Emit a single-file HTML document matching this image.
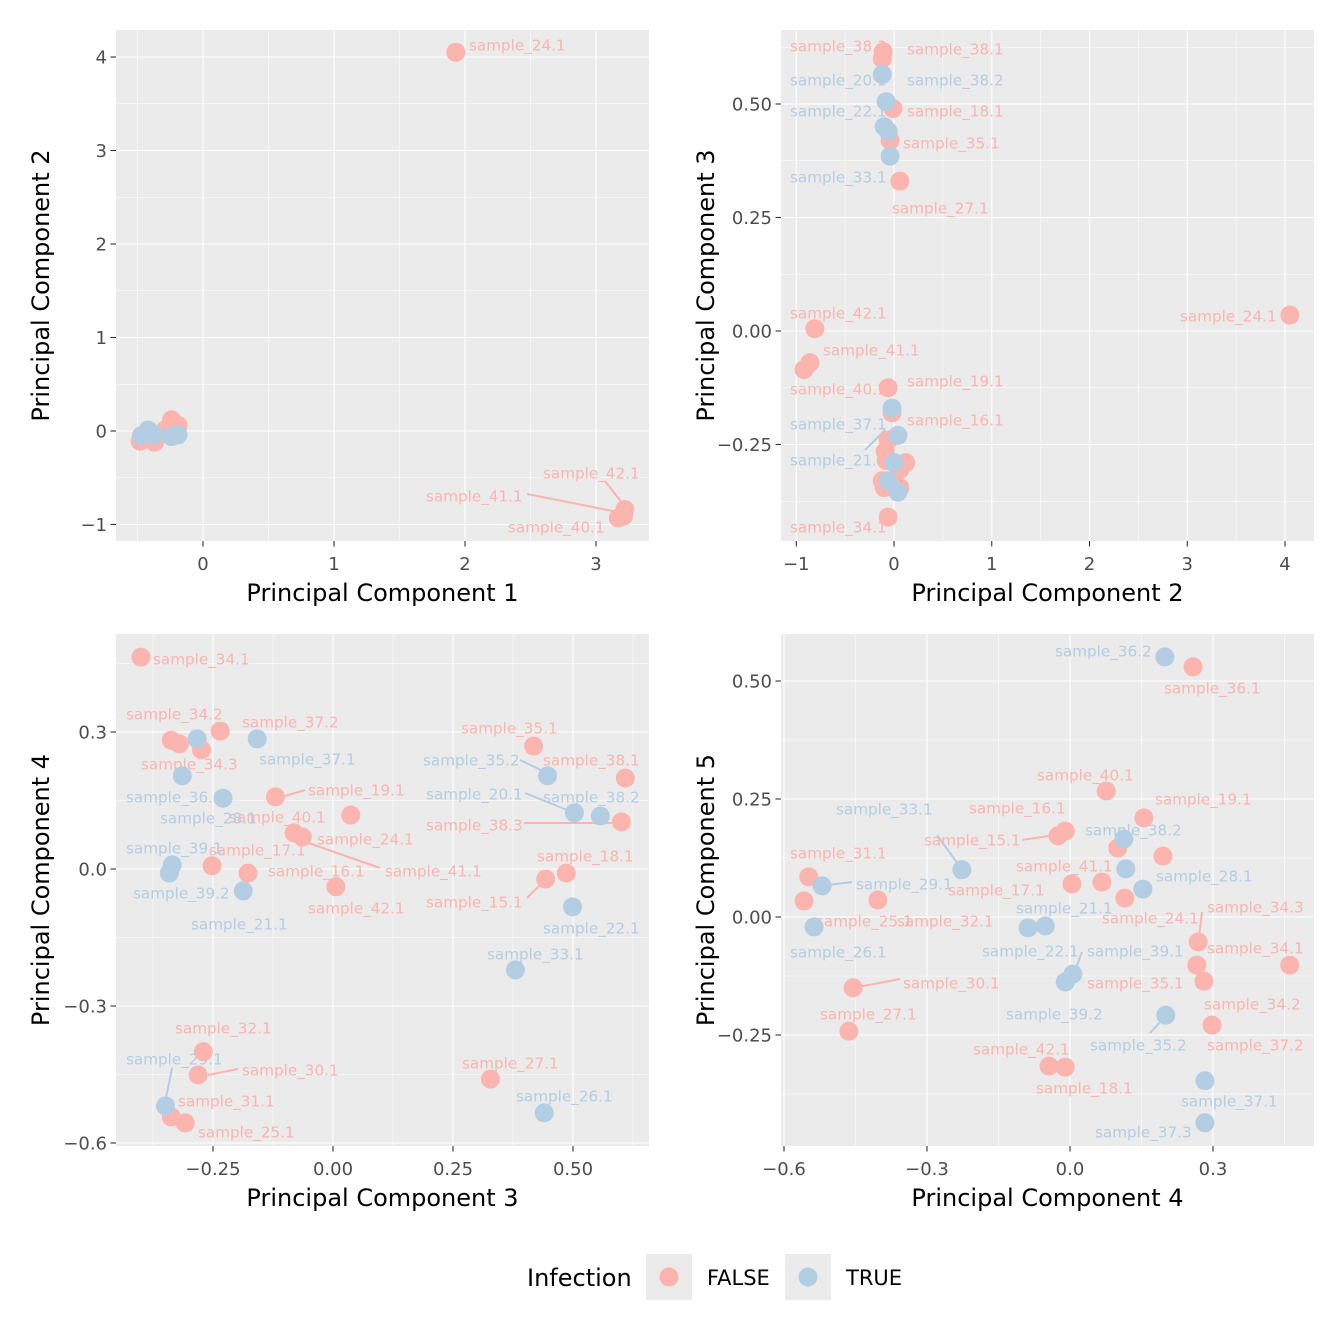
<!DOCTYPE html>
<html><head><meta charset="utf-8"><style>
html,body{margin:0;padding:0;background:#fff;}
svg{display:block;font-family:"DejaVu Sans","Liberation Sans",sans-serif;}
</style></head><body>
<svg id="chart" width="1344" height="1344" viewBox="0 0 1344 1344"></svg>
<script>
// ---- data (values in principal component units) ----
const p1_x=[1.93,-0.48,-0.37,-0.24,-0.19,-0.29,3.22,3.21,3.17,-0.42,-0.47,-0.24,-0.19,-0.37];
const p1_y=[4.05,-0.11,-0.12,0.12,0.06,0.01,-0.84,-0.91,-0.93,0.01,-0.05,-0.06,-0.04,-0.04];
const p1_g=[0,0,0,0,0,0,0,0,0,1,1,1,1,1];
const p2_x=[-0.11,-0.12,-0.01,-0.04,0.06,-0.81,-0.86,-0.92,-0.06,4.05,-0.06,0.12,-0.02,-0.06,-0.09,-0.08,0.06,-0.12,-0.1,0.06,-0.12,-0.08,-0.1,-0.06,-0.04,-0.02,0.04,0,-0.06,0.04];
const p2_y=[0.615,0.6,0.49,0.42,0.33,0.005,-0.07,-0.085,-0.125,0.035,-0.41,-0.29,-0.18,-0.24,-0.265,-0.285,-0.305,-0.33,-0.345,-0.345,0.565,0.505,0.45,0.44,0.385,-0.17,-0.23,-0.29,-0.33,-0.355];
const p2_g=[0,0,0,0,0,0,0,0,0,0,0,0,0,0,0,0,0,0,0,0,1,1,1,1,1,1,1,1,1,1];
const p3_x=[-0.4,-0.337,-0.32,-0.274,-0.235,-0.12,0.037,-0.081,-0.064,-0.252,-0.177,0.006,0.418,0.609,0.601,0.486,0.443,-0.27,-0.281,-0.337,-0.308,0.328,-0.283,-0.158,-0.314,-0.229,-0.335,-0.341,-0.187,0.447,0.503,0.557,0.499,0.38,0.44,-0.349];
const p3_y=[0.464,0.282,0.274,0.261,0.302,0.158,0.118,0.079,0.07,0.007,-0.009,-0.039,0.269,0.199,0.103,-0.009,-0.022,-0.4,-0.451,-0.543,-0.556,-0.46,0.285,0.285,0.204,0.155,0.009,-0.009,-0.048,0.204,0.123,0.116,-0.083,-0.221,-0.534,-0.519];
const p3_g=[0,0,0,0,0,0,0,0,0,0,0,0,0,0,0,0,0,0,0,0,0,0,1,1,1,1,1,1,1,1,1,1,1,1,1,1];
const p4_x=[0.258,0.076,0.155,-0.01,-0.025,0.1,0.195,0.004,0.067,0.115,-0.548,-0.558,-0.403,0.269,0.266,0.281,0.461,-0.455,-0.464,0.298,-0.044,-0.01,0.199,0.113,0.117,0.153,-0.227,-0.52,-0.537,-0.088,-0.052,0.006,-0.01,0.201,0.283,0.283];
const p4_y=[0.53,0.267,0.21,0.182,0.172,0.146,0.129,0.07,0.074,0.04,0.085,0.034,0.036,-0.053,-0.102,-0.136,-0.102,-0.15,-0.242,-0.229,-0.316,-0.318,0.551,0.165,0.102,0.059,0.1,0.066,-0.021,-0.023,-0.019,-0.121,-0.138,-0.208,-0.347,-0.436];
const p4_g=[0,0,0,0,0,0,0,0,0,0,0,0,0,0,0,0,0,0,0,0,0,0,1,1,1,1,1,1,1,1,1,1,1,1,1,1];
const p1_xticks=[0,1,2,3], p1_yticks=[-1,0,1,2,3,4];
const p2_xticks=[-1,0,1,2,3,4], p2_yticks=[-0.25,0,0.25,0.5];
const p3_xticks=[-0.25,0,0.25,0.5], p3_yticks=[-0.6,-0.3,0,0.3];
const p4_xticks=[-0.6,-0.3,0,0.3], p4_yticks=[-0.25,0,0.25,0.5];
const p1_xlab=["0","1","2","3"], p1_ylab=["−1","0","1","2","3","4"];
const p2_xlab=["−1","0","1","2","3","4"], p2_ylab=["−0.25","0.00","0.25","0.50"];
const p3_xlab=["−0.25","0.00","0.25","0.50"], p3_ylab=["−0.6","−0.3","0.0","0.3"];
const p4_xlab=["−0.6","−0.3","0.0","0.3"], p4_ylab=["−0.25","0.00","0.25","0.50"];
const colors=["#FBB4AE","#B3CDE3"];
// labels: [text, group, left px, center px]
const labels1=[["sample_24.1",0,469,45],["sample_42.1",0,543,473],["sample_41.1",0,426,496],["sample_40.1",0,508,527]];
const segs1=[[0,527,494,618,512],[0,605,481,622,503]];
const labels2=[["sample_38.3",0,790,46],["sample_38.1",0,907,49],["sample_18.1",0,907,111],["sample_35.1",0,903,143],["sample_27.1",0,892,208],["sample_42.1",0,790,313],["sample_41.1",0,823,350],["sample_40.1",0,790,389],["sample_19.1",0,907,381],["sample_16.1",0,907,420],["sample_34.1",0,790,527],["sample_24.1",0,1180,316],["sample_20.1",1,790,80],["sample_38.2",1,907,80],["sample_22.1",1,790,111],["sample_33.1",1,790,177],["sample_37.1",1,790,424],["sample_21.1",1,790,460]];
const segs2=[[1,865,450,885,430]];
const labels3=[["sample_34.1",0,153,659],["sample_34.2",0,126,714],["sample_37.2",0,242,722],["sample_34.3",0,141,764],["sample_19.1",0,308,790],["sample_40.1",0,229,817],["sample_24.1",0,317,839],["sample_17.1",0,209,850],["sample_16.1",0,268,871],["sample_41.1",0,385,871],["sample_42.1",0,308,908],["sample_35.1",0,461,728],["sample_38.1",0,543,760],["sample_38.3",0,426,825],["sample_18.1",0,537,856],["sample_15.1",0,426,902],["sample_32.1",0,175,1028],["sample_30.1",0,242,1070],["sample_31.1",0,178,1101],["sample_25.1",0,198,1132],["sample_27.1",0,462,1063],["sample_37.1",1,259,759],["sample_36.1",1,126,797],["sample_28.1",1,160,818],["sample_39.1",1,126,848],["sample_39.2",1,133,893],["sample_21.1",1,191,924],["sample_35.2",1,423,760],["sample_20.1",1,426,794],["sample_38.2",1,543,797],["sample_22.1",1,543,928],["sample_33.1",1,487,954],["sample_26.1",1,516,1096],["sample_29.1",1,126,1059]];
const segs3=[[0,300,840,380,868],[0,285,796,305,790],[1,520,760,545,772],[1,525,793,572,812],[0,524,823,615,823],[0,527,898,543,882],[1,172,1068,166,1098],[0,208,1075,238,1069]];
const labels4=[["sample_36.2",1,1055,651],["sample_33.1",1,836,809],["sample_38.2",1,1085,830],["sample_29.1",1,856,884],["sample_28.1",1,1156,876],["sample_21.1",1,1016,908],["sample_26.1",1,790,952],["sample_22.1",1,982,951],["sample_39.1",1,1087,951],["sample_39.2",1,1006,1014],["sample_35.2",1,1090,1045],["sample_37.1",1,1181,1101],["sample_37.3",1,1095,1132],["sample_36.1",0,1164,688],["sample_40.1",0,1037,775],["sample_19.1",0,1155,799],["sample_16.1",0,969,808],["sample_15.1",0,924,840],["sample_31.1",0,790,853],["sample_41.1",0,1016,866],["sample_17.1",0,948,890],["sample_24.1",0,1102,918],["sample_25.1",0,816,921],["sample_32.1",0,897,921],["sample_34.3",0,1207,907],["sample_34.1",0,1207,948],["sample_30.1",0,903,983],["sample_35.1",0,1087,983],["sample_34.2",0,1204,1004],["sample_27.1",0,820,1014],["sample_37.2",0,1207,1045],["sample_42.1",0,973,1049],["sample_18.1",0,1036,1088]];
const segs4=[[1,937,835,958,864],[1,828,885,852,882],[0,1022,840,1055,835],[0,858,987,900,979],[0,1202,912,1199,937],[1,1150,1033,1162,1020],[1,1082,952,1076,968]];

const NS="http://www.w3.org/2000/svg";
const svg=document.getElementById('chart');
function mk(tag,attrs,parent){const e=document.createElementNS(NS,tag);for(const k in attrs)e.setAttribute(k,attrs[k]);(parent||svg).appendChild(e);return e;}
function lin(d0,d1,r0,r1){return v=>r0+(v-d0)*(r1-r0)/(d1-d0);}

const panels=[
 {name:"pc1-pc2",box:[116,30,649,541],sx:lin(0,3,203,596),sy:lin(0,4,431,57),sxi:lin(203,596,0,3),syi:lin(431,57,0,4),xs:p1_x,ys:p1_y,gs:p1_g,xt:p1_xticks,yt:p1_yticks,xl:p1_xlab,yl:p1_ylab,xminor:0.5,yminor:0.5,xtitle:"Principal Component 1",ytitle:"Principal Component 2",labels:labels1,segs:segs1},
 {name:"pc2-pc3",box:[781,30,1314,541],sx:lin(0,4,894,1285),sy:lin(0,0.5,331,104),sxi:lin(894,1285,0,4),syi:lin(331,104,0,0.5),xs:p2_x,ys:p2_y,gs:p2_g,xt:p2_xticks,yt:p2_yticks,xl:p2_xlab,yl:p2_ylab,xminor:0.5,yminor:0.125,xtitle:"Principal Component 2",ytitle:"Principal Component 3",labels:labels2,segs:segs2},
 {name:"pc3-pc4",box:[116,634,649,1146],sx:lin(0,0.5,333,573),sy:lin(0,0.3,869,732),sxi:lin(333,573,0,0.5),syi:lin(869,732,0,0.3),xs:p3_x,ys:p3_y,gs:p3_g,xt:p3_xticks,yt:p3_yticks,xl:p3_xlab,yl:p3_ylab,xminor:0.125,yminor:0.15,xtitle:"Principal Component 3",ytitle:"Principal Component 4",labels:labels3,segs:segs3},
 {name:"pc4-pc5",box:[781,634,1314,1146],sx:lin(0,0.3,1070,1213),sy:lin(0,0.5,917,681),sxi:lin(1070,1213,0,0.3),syi:lin(917,681,0,0.5),xs:p4_x,ys:p4_y,gs:p4_g,xt:p4_xticks,yt:p4_yticks,xl:p4_xlab,yl:p4_ylab,xminor:0.15,yminor:0.125,xtitle:"Principal Component 4",ytitle:"Principal Component 5",labels:labels4,segs:segs4}
];

panels.forEach((P,pi)=>{
 const [x0,y0,x1,y1]=P.box;
 const g=mk('g',{});
 
 
 const bg=mk('rect',{x:x0,y:y0,width:x1-x0,height:y1-y0,fill:'#EBEBEB'},g);
 
 
 const dxmin=P.sxi(x0),dxmax=P.sxi(x1),dymin=P.syi(y1),dymax=P.syi(y0);
 for(let v=Math.ceil(dxmin/P.xminor)*P.xminor;v<=dxmax;v+=P.xminor){const px=P.sx(v);mk('line',{x1:px,x2:px,y1:y0,y2:y1,stroke:'#fff','stroke-width':0.55},g);}
 for(let v=Math.ceil(dymin/P.yminor)*P.yminor;v<=dymax;v+=P.yminor){const py=P.sy(v);mk('line',{x1:x0,x2:x1,y1:py,y2:py,stroke:'#fff','stroke-width':0.55},g);}
 P.xt.forEach((v,i)=>{const px=P.sx(v);
  mk('line',{x1:px,x2:px,y1:y0,y2:y1,stroke:'#fff','stroke-width':1.1},g);
  mk('line',{x1:px,x2:px,y1:y1,y2:y1+5.5,stroke:'#333','stroke-width':1.1},g);
  const t=mk('text',{x:px,y:y1+29,'text-anchor':'middle','font-size':18,fill:'#4D4D4D'},g);t.textContent=P.xl[i];
  
  });
 P.yt.forEach((v,i)=>{const py=P.sy(v);
  mk('line',{x1:x0,x2:x1,y1:py,y2:py,stroke:'#fff','stroke-width':1.1},g);
  mk('line',{x1:x0-5.5,x2:x0,y1:py,y2:py,stroke:'#333','stroke-width':1.1},g);
  const t=mk('text',{x:x0-9,y:py+6.5,'text-anchor':'end','font-size':18,fill:'#4D4D4D'},g);t.textContent=P.yl[i];
  
  });
 const xt=mk('text',{x:(x0+x1)/2,y:y1+60,'text-anchor':'middle','font-size':24,fill:'#000'},g);xt.textContent=P.xtitle;
 
 
 const ycx=x0-67,ycy=(y0+y1)/2;
 const yt=mk('text',{x:ycx,y:ycy,'text-anchor':'middle','font-size':24,fill:'#000',transform:`rotate(-90 ${ycx} ${ycy})`},g);yt.textContent=P.ytitle;
 
 
 P.segs.forEach(s=>{const l=mk('line',{x1:s[1],y1:s[2],x2:s[3],y2:s[4],stroke:colors[s[0]],'stroke-width':2},g);
  
  });
 P.labels.forEach(L=>{const t=mk('text',{x:L[2],y:L[3]+5.5,'font-size':15.2,fill:colors[L[1]]},g);t.textContent=L[0];
  
  });
 P.xs.forEach((v,i)=>{const c=mk('circle',{cx:P.sx(v),cy:P.sy(P.ys[i]),r:9.5,fill:colors[P.gs[i]]},g);
  
  });
});
// legend
const lg=mk('g',{});


const lt=mk('text',{x:527,y:1286,'font-size':24,fill:'#000'},lg);lt.textContent='Infection';


[["FALSE",646,707],["TRUE",785,846]].forEach((e,i)=>{
 const r=mk('rect',{x:e[1],y:1254,width:46,height:46,fill:'#EBEBEB'},lg);
 
 
 mk('circle',{cx:e[1]+23,cy:1277,r:9.5,fill:colors[i]},lg);
 const t=mk('text',{x:e[2],y:1285,'font-size':21,fill:'#000'},lg);t.textContent=e[0];
 
 
});
</script>
</body></html>
